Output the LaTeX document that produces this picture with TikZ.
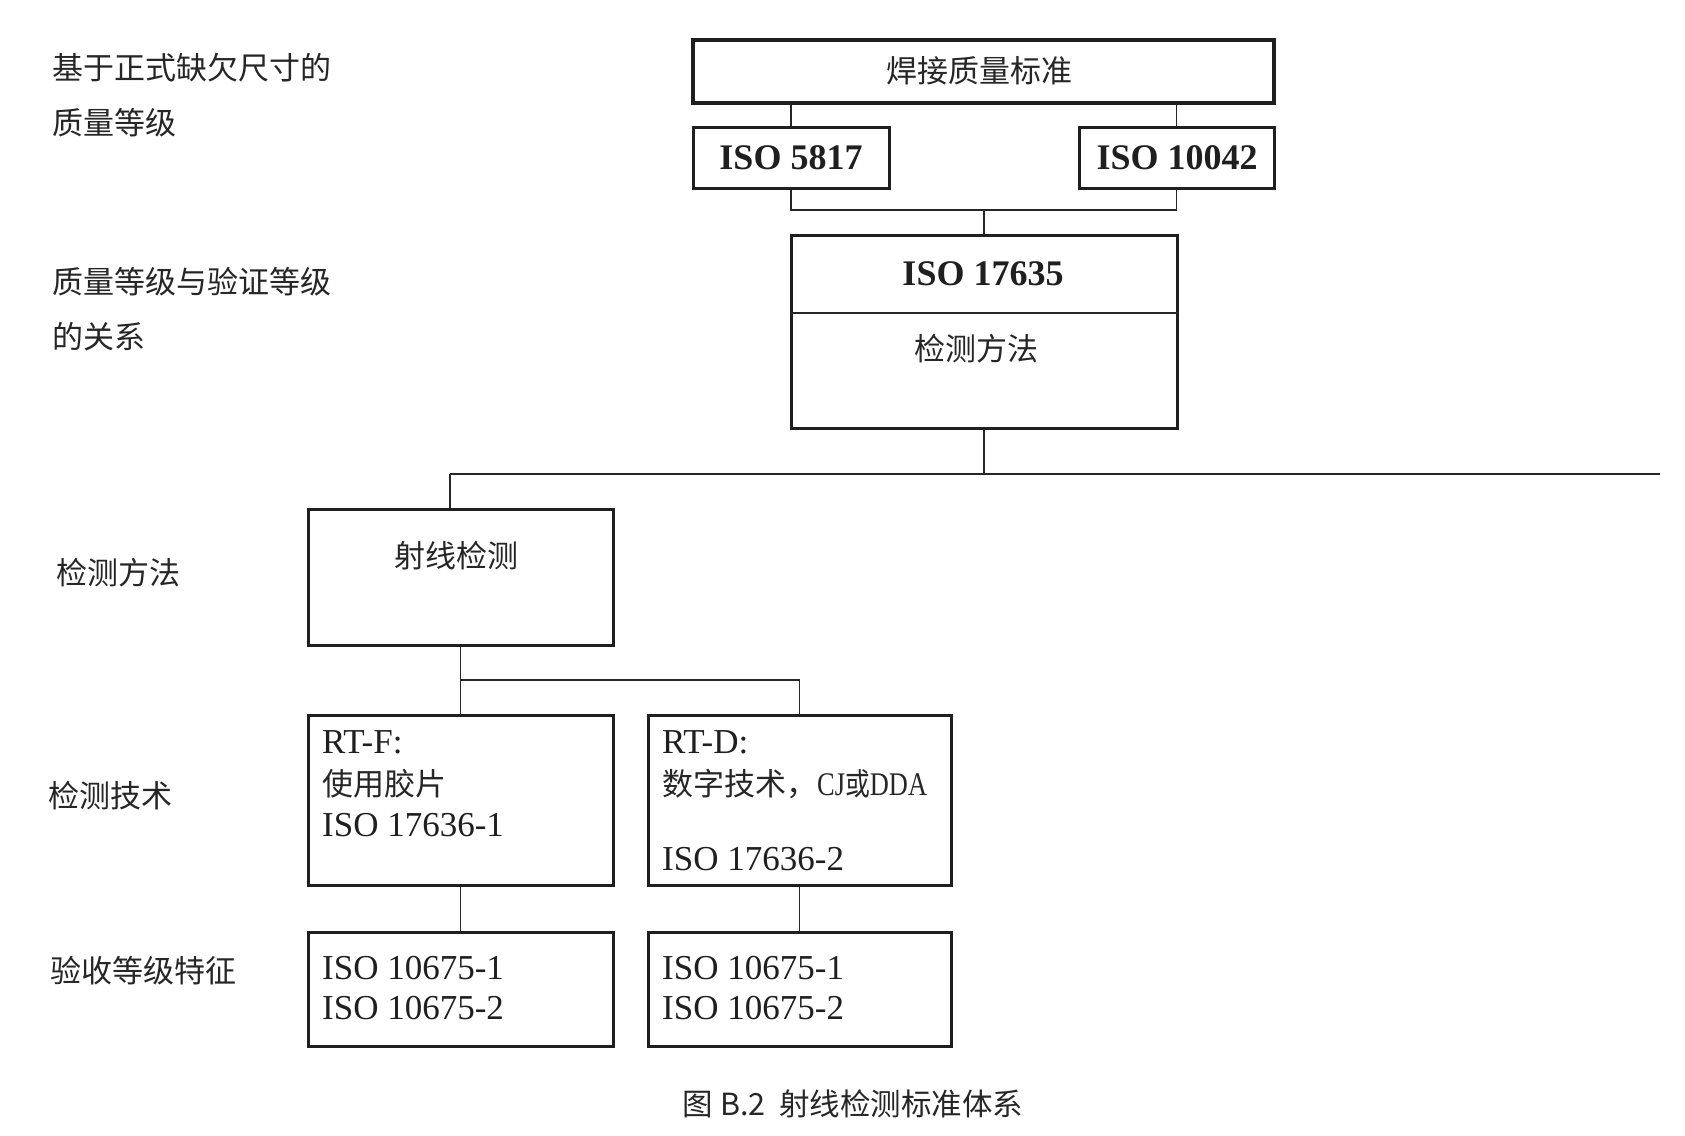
\documentclass[tikz,border=0pt]{standalone}
\usepackage{graphicx}
\usepackage{fontspec}
\setmainfont{Liberation Serif}
\newfontfamily\cjk{Noto Sans CJK SC}
\begin{document}
\begin{tikzpicture}[x=1pt,y=-1pt,
  box/.style={draw=black!88,line width=3pt,minimum width=#1,inner sep=0pt},
  conn/.style={draw=black!85,line width=1.9pt},
  zh/.style={inner sep=0pt,font=\cjk\fontsize{31}{31}\selectfont,text=black!85},
  lat/.style={inner sep=0pt,font=\fontsize{35}{35}\selectfont,text=black!88},
  latb/.style={inner sep=0pt,font=\bfseries\fontsize{36}{36}\selectfont,text=black!88}]
\useasboundingbox (0,0) rectangle (1685,1135);
% boxes
\node[box=581pt,minimum height=63pt,line width=3.5pt] (top) at (983.5,71.5) {};
\node[box=196pt,minimum height=61pt] (i5817) at (791,157.5) {};
\node[box=195pt,minimum height=61pt] (i10042) at (1176.5,157.5) {};
\node[box=386pt,minimum height=193pt] (i17635) at (984,331.5) {};
\node[box=305pt,minimum height=136pt] (rt) at (460.5,577) {};
\node[box=305pt,minimum height=170pt] (rtf) at (460.5,800) {};
\node[box=303pt,minimum height=170pt] (rtd) at (799.5,800) {};
\node[box=305pt,minimum height=114pt] (b1) at (460.5,989) {};
\node[box=303pt,minimum height=114pt] (b2) at (799.5,989) {};
% divider
\draw[conn,line width=2.2pt] (i17635.west |- 0,313) -- (i17635.east |- 0,313);
% texts in boxes
\node[zh] (t1) at (979,71) {焊接质量标准};
\node[latb] (t2) at (791,158) {ISO 5817};
\node[latb] (t3) at (1177,158) {ISO 10042};
\node[latb] (t4) at (983,274) {ISO 17635};
\node[zh] (t5) at (976,349) {检测方法};
\node[zh] (t6) at (456,556) {射线检测};
\node[lat,anchor=west] (t7) at (322,742) {RT-F:};
\node[zh,anchor=west] (t8) at (322,784) {使用胶片};
\node[lat,anchor=west] (t9) at (322,825) {ISO 17636-1};
\node[lat,anchor=west] (t10) at (662,742) {RT-D:};
\node[zh,anchor=west] (t11) at (662,784) {数字技术，\scalebox{0.8}[1]{{\rmfamily\fontsize{33}{33}\selectfont CJ}或{\rmfamily\fontsize{33}{33}\selectfont DDA}}};
\node[lat,anchor=west] (t12) at (662,859) {ISO 17636-2};
\node[lat,anchor=west] (t13) at (322,968) {ISO 10675-1};
\node[lat,anchor=west] (t14) at (322,1008) {ISO 10675-2};
\node[lat,anchor=west] (t15) at (662,968) {ISO 10675-1};
\node[lat,anchor=west] (t16) at (662,1008) {ISO 10675-2};
% left labels
\node[zh,anchor=west] (l1) at (52,68) {基于正式缺欠尺寸的};
\node[zh,anchor=west] (l2) at (52,123) {质量等级};
\node[zh,anchor=west] (l3) at (52,282) {质量等级与验证等级};
\node[zh,anchor=west] (l4) at (52,337) {的关系};
\node[zh,anchor=west] (l5) at (56,573) {检测方法};
\node[zh,anchor=west] (l6) at (48,796) {检测技术};
\node[zh,anchor=west] (l7) at (50,971) {验收等级特征};
% caption
\node[inner sep=0pt,font=\cjk\fontsize{30.5}{30.5}\selectfont,text=black!85] (cap) at (853,1104) {图 B.2\ \ 射线检测标准体系};
% connectors
\draw[conn] (i5817.north) -- (i5817.north |- top.south);
\draw[conn] (i10042.north) -- (i10042.north |- top.south);
\coordinate (j1) at (984,210);
\draw[conn] (i5817.south) |- (j1) -| (i10042.south);
\draw[conn] (j1) -- (i17635.north);
\coordinate (h) at (450,474);
\coordinate (hend) at (1660,474);
\draw[conn] (i17635.south) -- (i17635.south |- h);
\draw[conn] (h) -- (hend);
\draw[conn] (h) -- (h |- rt.north);
\coordinate (j2) at (460.5,680);
\draw[conn] (rt.south) -- (rtf.north);
\draw[conn] (j2) -| (rtd.north);
\draw[conn] (rtf.south) -- (b1.north);
\draw[conn] (rtd.south) -- (b2.north);
\end{tikzpicture}
\end{document}
